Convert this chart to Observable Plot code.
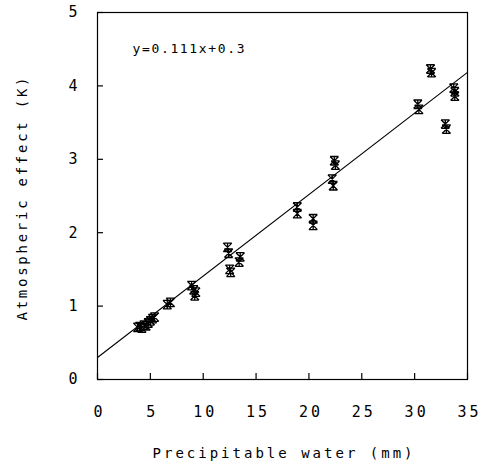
<!DOCTYPE html>
<html>
<head>
<meta charset="utf-8">
<script src="https://cdn.jsdelivr.net/npm/d3@7"></script>
<script src="https://cdn.jsdelivr.net/npm/@observablehq/plot@0.6"></script>
<style>
  html, body { margin: 0; padding: 0; background: #fff; }
  #chart svg { display: block; }
  .ticklbl text { letter-spacing: 3px; }
</style>
</head>
<body>
<div id="chart"></div>
<script>
// Precipitable water (mm)
const water = [3.8, 4.0, 4.2, 4.4, 4.6, 4.8, 5.0, 5.2, 5.4,
  6.6, 6.9,
  8.9, 9.1, 9.2, 9.3,
  12.3, 12.4, 12.5, 12.6,
  13.4, 13.5,
  18.9, 18.9,
  20.4, 20.4,
  22.4, 22.5, 22.2, 22.3,
  30.3, 30.4,
  31.5, 31.6,
  32.9, 33.0,
  33.7, 33.8, 33.8];
// Atmospheric effect (K)
const effect = [0.71, 0.72, 0.70, 0.74, 0.73, 0.77, 0.80, 0.83, 0.85,
  1.02, 1.05,
  1.28, 1.22, 1.14, 1.19,
  1.80, 1.72, 1.50, 1.46,
  1.60, 1.67,
  2.35, 2.26,
  2.19, 2.10,
  2.98, 2.92, 2.73, 2.64,
  3.75, 3.68,
  4.23, 4.18,
  3.48, 3.41,
  3.97, 3.92, 3.86];
const xTicks = [0, 5, 10, 15, 20, 25, 30, 35];
const yTicks = [0, 1, 2, 3, 4, 5];
const slope = 0.111;
const intercept = 0.3;
const fitLabel = "y=0.111x+0.3";
const xLabel = "Precipitable water (mm)";
const yLabel = "Atmospheric effect (K)";

const points = water.map((x, i) => ({x, y: effect[i]}));
const fitLine = [xTicks[0], xTicks[xTicks.length - 1]].map(x => ({x, y: slope * x + intercept}));

// asterisk-like plotter marker: X with top/bottom bars and a vertical stroke
const plotterStar = {
  draw(context, size) {
    const r = Math.sqrt(size) / 2;
    context.moveTo(-r, -r); context.lineTo(r, r);
    context.moveTo(-r, r); context.lineTo(r, -r);
    context.moveTo(-r, -r); context.lineTo(r, -r);
    context.moveTo(-r, r); context.lineTo(r, r);
    context.moveTo(0, -r); context.lineTo(0, r);
  }
};

const font = "'DejaVu Sans Mono', 'Liberation Mono', monospace";

const chart = Plot.plot({
  width: 487,
  height: 465,
  marginLeft: 97,
  marginRight: 20,
  marginTop: 12,
  marginBottom: 86,
  style: {fontFamily: font, background: "#fff", color: "#000"},
  x: {domain: [0, 35]},
  y: {domain: [0, 5]},
  marks: [
    Plot.frame({stroke: "#000", strokeWidth: 1.2}),
    Plot.axisX(xTicks, {tickSize: -6, tickFormat: () => "", label: null, strokeWidth: 1.2}),
    Plot.axisX(xTicks, {tickSize: 0, tickPadding: 27, fontSize: 15, label: null, tickFormat: d => String(d), className: "ticklbl", dx: 2}),
    Plot.axisY(yTicks, {tickSize: -6, tickFormat: () => "", label: null, strokeWidth: 1.2}),
    Plot.axisY(yTicks, {tickSize: 0, tickPadding: 17, fontSize: 15, label: null, tickFormat: d => String(d), className: "ticklbl"}),
    Plot.line(fitLine, {x: "x", y: "y", stroke: "#000", strokeWidth: 1.1}),
    Plot.dot(points, {x: "x", y: "y", symbol: plotterStar, r: 4.8, stroke: "#000", strokeWidth: 1.3, fill: "none"}),
    Plot.text([fitLabel], {frameAnchor: "top-left", dx: 35, dy: 31, text: d => d, fontSize: 13, textAnchor: "start", className: "fitlbl"}),
    Plot.text([xLabel], {frameAnchor: "bottom", dy: 78, text: d => d, fontSize: 14, textAnchor: "middle", className: "xlbl"}),
    Plot.text([yLabel], {frameAnchor: "left", dx: -75, dy: 3, rotate: -90, text: d => d, fontSize: 14, textAnchor: "middle", className: "ylbl"})
  ]
});
// stretch the plotter-style labels to the widths they occupy in the original figure
const stretch = {fitlbl: 112, xlbl: 260, ylbl: 243};
for (const [cls, len] of Object.entries(stretch)) {
  d3.select(chart).selectAll(`.${cls} text`).attr("textLength", len).attr("lengthAdjust", "spacing");
}
document.getElementById("chart").appendChild(chart);
</script>
</body>
</html>
